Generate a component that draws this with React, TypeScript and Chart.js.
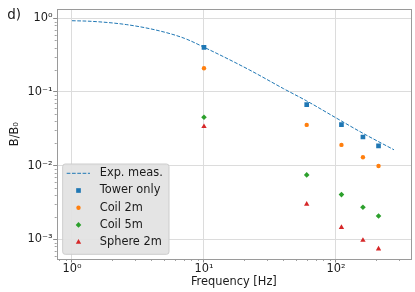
import React, { useEffect, useRef } from 'react';
import { Chart, registerables } from 'chart.js';

Chart.register(...registerables);

// ---- data ----
const expFreq = [1, 1.4, 2.6, 4.6, 7.1, 10, 22, 40, 60, 100, 160, 275];
const expVals = [0.927, 0.91, 0.82, 0.675, 0.535, 0.405, 0.2, 0.111, 0.0755, 0.0445, 0.0275, 0.0164];
const measFreq = [10, 60, 110, 160, 210];
const towerOnly = [0.404, 0.0673, 0.036, 0.0245, 0.0185];
const coil2m = [0.21, 0.0357, 0.0191, 0.013, 0.0099];
const coil5m = [0.0453, 0.00748, 0.00404, 0.00272, 0.00207];
const sphere2m = [0.034, 0.003, 0.00145, 0.00097, 0.00074];
const seriesLabels = ['Exp. meas.', 'Tower only', 'Coil 2m', 'Coil 5m', 'Sphere 2m'];
const seriesColors = ['#1f77b4', '#1f77b4', '#ff7f0e', '#2ca02c', '#d62728'];
const xMajorTicks = [1, 10, 100];
const xTickLabels = ['10⁰', '10¹', '10²'];
const yMajorTicks = [0.001, 0.01, 0.1, 1];
const yTickLabels = ['10⁻³', '10⁻²', '10⁻¹', '10⁰'];
const xTitle = 'Frequency [Hz]';
const yTitle = 'B/B₀';
const panelLabel = 'd)';
const xRange = [0.766, 370];
const yRange = [5.4e-4, 1.325];

const FONT = '"DejaVu Sans", sans-serif';
const TEXT = '#1a1a1a';
const GRID = '#dcdcdc';
const FRAME = '#9a9a9a';
const TICK = '#8a8a8a';
const FS = 11.4;

const isMajor = (v: number) => Math.abs(Math.log10(v) - Math.round(Math.log10(v))) < 1e-6;
const logTicks = (min: number, max: number) => {
  const out: number[] = [];
  for (let e = -5; e <= 4; e++) {
    for (let m = 1; m < 10; m++) {
      const v = m * Math.pow(10, e);
      if (v >= min && v <= max) out.push(v);
    }
  }
  return out;
};
const labelFor = (v: number, majors: number[], labels: string[]) => {
  const i = majors.findIndex((t) => Math.abs(Math.log10(t) - Math.log10(v)) < 1e-6);
  return i >= 0 ? labels[i] : '';
};

function drawMarker(ctx: CanvasRenderingContext2D, style: string, r: number, x: number, y: number) {
  ctx.beginPath();
  if (style === 'rect') {
    const s = Math.SQRT1_2 * r;
    ctx.rect(x - s, y - s, 2 * s, 2 * s);
  } else if (style === 'circle') {
    ctx.arc(x, y, r, 0, Math.PI * 2);
  } else if (style === 'rectRot') {
    ctx.moveTo(x - r, y);
    ctx.lineTo(x, y - r);
    ctx.lineTo(x + r, y);
    ctx.lineTo(x, y + r);
    ctx.closePath();
  } else if (style === 'triangle') {
    let a = 0;
    ctx.moveTo(x + Math.sin(a) * r, y - Math.cos(a) * r);
    a += (2 * Math.PI) / 3;
    ctx.lineTo(x + Math.sin(a) * r, y - Math.cos(a) * r);
    a += (2 * Math.PI) / 3;
    ctx.lineTo(x + Math.sin(a) * r, y - Math.cos(a) * r);
    ctx.closePath();
  }
  ctx.fill();
}

const extrasPlugin = {
  id: 'extras',
  afterDraw(chart: any) {
    const ctx: CanvasRenderingContext2D = chart.ctx;
    const a = chart.chartArea;
    const xs = chart.scales.x;
    const ys = chart.scales.y;
    ctx.save();
    // minor ticks
    ctx.strokeStyle = TICK;
    ctx.lineWidth = 0.8;
    ctx.beginPath();
    xs.ticks.forEach((t: any) => {
      if (!isMajor(t.value)) {
        const px = Math.round(xs.getPixelForValue(t.value)) + 0.5;
        ctx.moveTo(px, a.bottom);
        ctx.lineTo(px, a.bottom + 2);
      }
    });
    ys.ticks.forEach((t: any) => {
      if (!isMajor(t.value)) {
        const py = Math.round(ys.getPixelForValue(t.value)) + 0.5;
        ctx.moveTo(a.left - 2, py);
        ctx.lineTo(a.left, py);
      }
    });
    ctx.stroke();
    // frame
    ctx.strokeStyle = FRAME;
    ctx.lineWidth = 1;
    ctx.strokeRect(Math.round(a.left) + 0.5, Math.round(a.top) + 0.5, Math.round(a.right) - Math.round(a.left), Math.round(a.bottom) - Math.round(a.top));

    // legend
    const lx = a.left + 6;
    const lw = 106.3;
    const lh = 90.3;
    const ly = a.bottom - 4.7 - lh;
    ctx.beginPath();
    const rr = 2.5;
    ctx.moveTo(lx + rr, ly);
    ctx.lineTo(lx + lw - rr, ly);
    ctx.arcTo(lx + lw, ly, lx + lw, ly + rr, rr);
    ctx.lineTo(lx + lw, ly + lh - rr);
    ctx.arcTo(lx + lw, ly + lh, lx + lw - rr, ly + lh, rr);
    ctx.lineTo(lx + rr, ly + lh);
    ctx.arcTo(lx, ly + lh, lx, ly + lh - rr, rr);
    ctx.lineTo(lx, ly + rr);
    ctx.arcTo(lx, ly, lx + rr, ly, rr);
    ctx.closePath();
    ctx.fillStyle = 'rgba(226,226,226,0.92)';
    ctx.fill();
    ctx.strokeStyle = '#cccccc';
    ctx.lineWidth = 1;
    ctx.stroke();

    const datasets = chart.data.datasets;
    ctx.font = `${FS}px ${FONT}`;
    ctx.textBaseline = 'middle';
    ctx.textAlign = 'left';
    datasets.forEach((ds: any, i: number) => {
      const cy = ly + 9.3 + i * 17.2;
      if (ds.showLine) {
        ctx.strokeStyle = ds.borderColor;
        ctx.lineWidth = ds.borderWidth;
        ctx.setLineDash(ds.borderDash || []);
        ctx.beginPath();
        ctx.moveTo(lx + 4, cy);
        ctx.lineTo(lx + 27.3, cy);
        ctx.stroke();
        ctx.setLineDash([]);
      } else {
        ctx.fillStyle = ds.backgroundColor;
        drawMarker(ctx, ds.pointStyle, ds.pointRadius, lx + 15.8, cy);
      }
      ctx.fillStyle = TEXT;
      ctx.fillText(ds.label, lx + 37, cy);
    });

    // panel label
    ctx.font = `13.5px ${FONT}`;
    ctx.textBaseline = 'alphabetic';
    ctx.fillStyle = TEXT;
    ctx.fillText(panelLabel, 7.3, 18.8);
    ctx.restore();
  },
};

export default function App() {
  const ref = useRef<HTMLCanvasElement>(null);
  useEffect(() => {
    document.body.style.margin = '0';
    const canvas = ref.current!;
    const pts = (xs: number[], ys: number[]) => xs.map((x, i) => ({ x, y: ys[i] }));
    const markerSeries = [towerOnly, coil2m, coil5m, sphere2m];
    const styles = ['rect', 'circle', 'rectRot', 'triangle'];
    const radii = [3.3, 2.2, 2.8, 3.1];
    const datasets: any[] = [
      {
        label: seriesLabels[0],
        data: pts(expFreq, expVals),
        showLine: true,
        borderColor: seriesColors[0],
        borderWidth: 1,
        borderDash: [3.7, 1.6],
        pointRadius: 0,
        cubicInterpolationMode: 'monotone',
        order: 1,
      },
      ...markerSeries.map((vals, i) => ({
        label: seriesLabels[i + 1],
        data: pts(measFreq, vals),
        showLine: false,
        backgroundColor: seriesColors[i + 1],
        borderColor: seriesColors[i + 1],
        borderWidth: 0,
        pointStyle: styles[i],
        pointRadius: radii[i],
        order: 0,
      })),
    ];
    const chart = new Chart(canvas, {
      type: 'scatter',
      data: { datasets },
      options: {
        animation: false,
        responsive: false,
        devicePixelRatio: 1,
        layout: { padding: { left: 0, right: 3.7, top: 9.3, bottom: 0 } },
        plugins: { legend: { display: false }, tooltip: { enabled: false } },
        scales: {
          x: {
            type: 'logarithmic',
            position: 'bottom',
            min: xRange[0],
            max: xRange[1],
            afterFit: (s: any) => {
              s.height = 33;
            },
            afterBuildTicks: (s: any) => {
              s.ticks = logTicks(xRange[0], xRange[1]).map((v) => ({ value: v }));
            },
            ticks: {
              autoSkip: false,
              maxRotation: 0,
              minRotation: 0,
              padding: 0,
              color: TEXT,
              font: { family: FONT, size: FS },
              callback: (v: any) => labelFor(Number(v), xMajorTicks, xTickLabels),
            },
            grid: {
              color: (c: any) => (c.tick && isMajor(c.tick.value) ? GRID : 'rgba(0,0,0,0)'),
              tickColor: (c: any) => (c.tick && isMajor(c.tick.value) ? TICK : 'rgba(0,0,0,0)'),
              tickLength: 3.5,
              lineWidth: 1,
            },
            border: { display: false },
            title: {
              display: true,
              text: xTitle,
              color: TEXT,
              font: { family: FONT, size: FS },
              padding: { top: 0, bottom: 2.7 },
            },
          },
          y: {
            type: 'logarithmic',
            position: 'left',
            min: yRange[0],
            max: yRange[1],
            afterFit: (s: any) => {
              s.width = 56.7;
            },
            afterBuildTicks: (s: any) => {
              s.ticks = logTicks(yRange[0], yRange[1]).map((v) => ({ value: v }));
            },
            ticks: {
              autoSkip: false,
              padding: 0.7,
              color: TEXT,
              font: { family: FONT, size: FS },
              callback: (v: any) => labelFor(Number(v), yMajorTicks, yTickLabels),
            },
            grid: {
              color: (c: any) => (c.tick && isMajor(c.tick.value) ? GRID : 'rgba(0,0,0,0)'),
              tickColor: (c: any) => (c.tick && isMajor(c.tick.value) ? TICK : 'rgba(0,0,0,0)'),
              tickLength: 3.5,
              lineWidth: 1,
            },
            border: { display: false },
            title: {
              display: true,
              text: yTitle,
              color: TEXT,
              font: { family: FONT, size: FS },
              padding: { top: 8.7, bottom: 0 },
            },
          },
        },
      },
      plugins: [extrasPlugin],
    } as any);
    return () => chart.destroy();
  }, []);
  return (
    <canvas
      ref={ref}
      width={415}
      height={292}
      style={{ display: 'block', position: 'absolute', left: 0, top: 0 }}
    />
  );
}
